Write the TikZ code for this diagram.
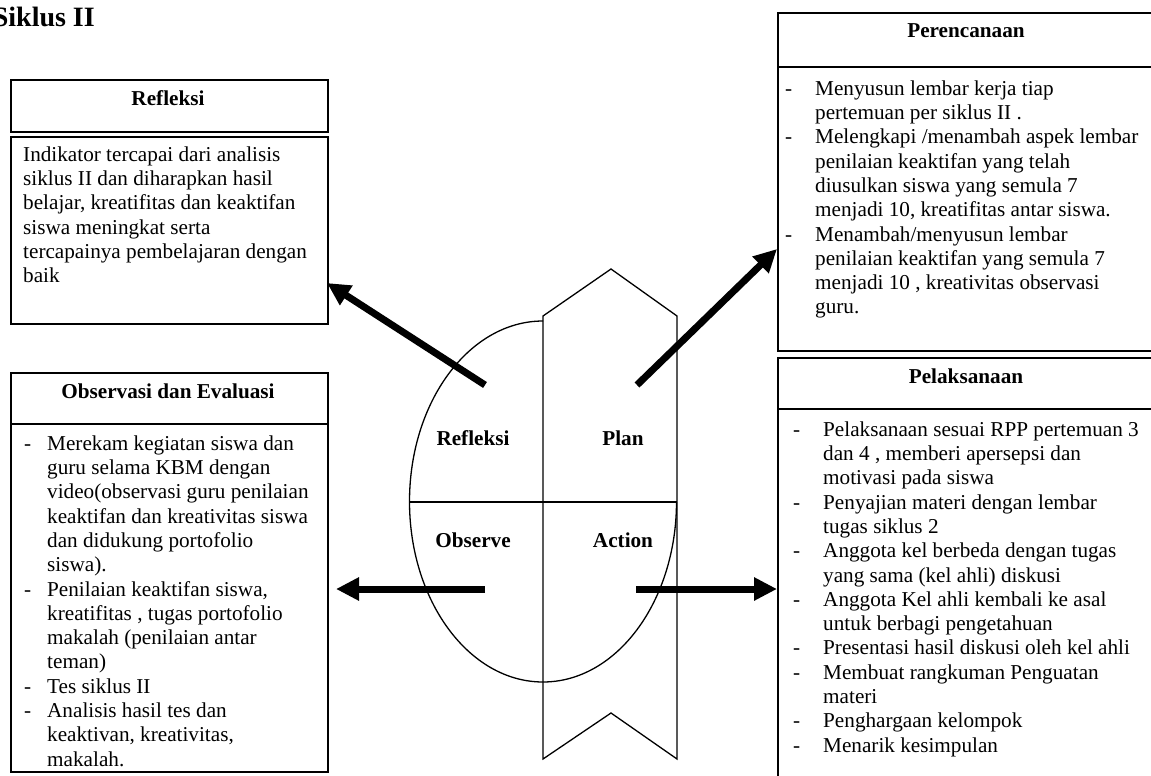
\documentclass[tikz,border=0pt]{standalone}
\usepackage{fontspec}
\setmainfont{Liberation Serif}
\usetikzlibrary{arrows.meta}
\newcommand\dsh[1]{\llap{\makebox[#1][l]{-}}}
\begin{document}
\begin{tikzpicture}[x=1pt,y=-1pt,
  box/.style={draw,line width=1.8pt,rectangle,inner sep=0pt,anchor=north west},
  head/.style={font=\fontsize{21.2}{24.3}\selectfont\bfseries,anchor=base,inner sep=0pt},
  body/.style={font=\fontsize{21.2}{24.3}\selectfont,align=left,anchor=north west,inner sep=0pt},
  sepline/.style={line width=1.8pt},
  outline/.style={line width=1.3pt},
  bigarrow/.style={line width=7pt,-{Triangle[length=23pt,width=22pt]}}]
\useasboundingbox (0,0) rectangle (1151,776);
\clip (0,0) rectangle (1151,776);
\fill[white] (0,0) rectangle (1151,776);

% title
\node[font=\fontsize{28}{32}\selectfont\bfseries,anchor=base east,inner sep=0pt] (title) at (95,27) {Siklus II};

% Refleksi boxes
\node[box,minimum width=317pt,minimum height=52pt] (refH) at (10,79) {};
\node[box,minimum width=317pt,minimum height=187pt] (refB) at (10,136) {};
\node[head] (refHt) at (168,105) {Refleksi};
\node[body] (refBt) at (23,144) {\strut Indikator tercapai dari analisis\\
siklus II dan diharapkan hasil\\
belajar, kreatifitas dan keaktifan\\
siswa meningkat serta\\
tercapainya pembelajaran dengan\\
baik};

% Perencanaan box
\node[box,minimum width=378pt,minimum height=338pt] (per) at (777,12) {};
\draw[sepline] (777,67) -- (1155,67);
\node[head] (perHt) at (966,38) {Perencanaan};
\node[body] (perBt) at (815,78) {\dsh{30pt}\strut Menyusun lembar kerja tiap\\
pertemuan per siklus II .\\
\dsh{30pt}Melengkapi /menambah aspek lembar\\
penilaian keaktifan yang telah\\
diusulkan siswa yang semula 7\\
menjadi 10, kreatifitas antar siswa.\\
\dsh{30pt}Menambah/menyusun lembar\\
penilaian keaktifan yang semula 7\\
menjadi 10 , kreativitas observasi\\
guru.};

% Observasi box
\node[box,minimum width=317pt,minimum height=399pt] (obs) at (10,372) {};
\draw[sepline] (10,424) -- (327,424);
\node[head] (obsHt) at (168,398) {Observasi dan Evaluasi};
\node[body] (obsBt) at (47,433) {\dsh{23pt}\strut Merekam kegiatan siswa dan\\
guru selama KBM dengan\\
video(observasi guru penilaian\\
keaktifan dan kreativitas siswa\\
dan didukung portofolio\\
siswa).\\
\dsh{23pt}Penilaian keaktifan siswa,\\
kreatifitas , tugas portofolio\\
makalah (penilaian antar\\
teman)\\
\dsh{23pt}Tes siklus II\\
\dsh{23pt}Analisis hasil tes dan\\
keaktivan, kreativitas,\\
makalah.};

% Pelaksanaan box
\node[box,minimum width=378pt,minimum height=440pt] (pel) at (777,357) {};
\draw[sepline] (777,409) -- (1155,409);
\node[head] (pelHt) at (966,383) {Pelaksanaan};
\node[body] (pelBt) at (823,419) {\dsh{30pt}\strut Pelaksanaan sesuai RPP pertemuan 3\\
dan 4 , memberi apersepsi dan\\
motivasi pada siswa\\
\dsh{30pt}Penyajian materi dengan lembar\\
tugas siklus 2\\
\dsh{30pt}Anggota kel berbeda dengan tugas\\
yang sama (kel ahli) diskusi\\
\dsh{30pt}Anggota Kel ahli kembali ke asal\\
untuk berbagi pengetahuan\\
\dsh{30pt}Presentasi hasil diskusi oleh kel ahli\\
\dsh{30pt}Membuat rangkuman Penguatan\\
materi\\
\dsh{30pt}Penghargaan kelompok\\
\dsh{30pt}Menarik kesimpulan};

% center shape: ellipse without its upper-right quarter
\begin{scope}
  \clip (380,300) rectangle (543,720) (543,502) rectangle (720,720);
  \draw[outline] (543,501.5) ellipse [x radius=133.5pt, y radius=180.5pt];
\end{scope}
\draw[outline] (543,316) -- (611,269) -- (677,316) -- (677,759) -- (611,713) -- (543,759) -- cycle;
\draw[outline] (409.5,502) -- (677,502);

\node[head] (lRef) at (473,445) {Refleksi};
\node[head] (lPlan) at (623,445) {Plan};
\node[head] (lObs) at (473,547) {Observe};
\node[head] (lAct) at (623,547) {Action};

% arrows
\coordinate (rS) at (485,385);
\coordinate (rT) at (327,283);
\coordinate (pS) at (637,385);
\coordinate (pT) at (777,249);
\coordinate (oS) at (485,589);
\coordinate (oT) at (336,589);
\coordinate (aS) at (636,589);
\coordinate (aT) at (777,589);
\draw[bigarrow] (rS) -- (rT);
\draw[bigarrow] (pS) -- (pT);
\draw[bigarrow] (oS) -- (oT);
\draw[bigarrow] (aS) -- (aT);
\end{tikzpicture}
\end{document}
